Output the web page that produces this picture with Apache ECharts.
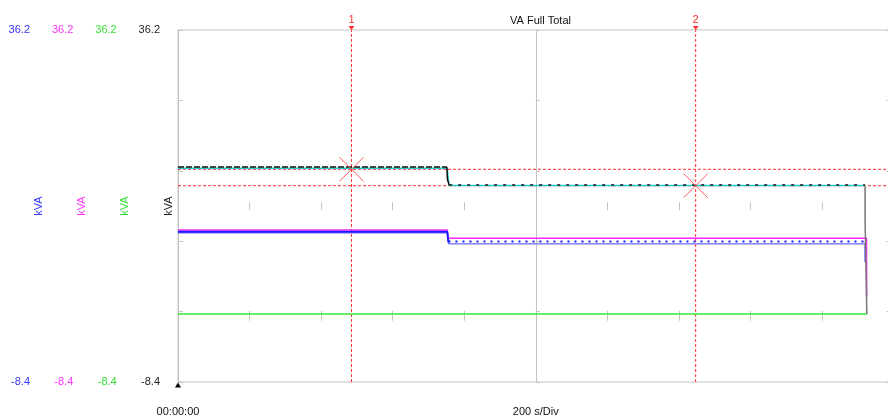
<!DOCTYPE html>
<html><head><meta charset="utf-8">
<script src="https://cdn.jsdelivr.net/npm/echarts@6/dist/echarts.min.js"></script>
<style>html,body{margin:0;padding:0;background:#fff}#chart{width:888px;height:419px}</style>
</head><body><div id="chart"></div>
<script>
// Trace samples as [time in s, kVA]
const greenTrace = [[0, 0.22], [385.3, 0.22]];
const magentaTrace = [[0, 10.86], [150.5, 10.86], [151.1, 9.81], [384.9, 9.81], [385.0, 2.4]];
const blueBaseTrace = [[0, 10.5], [150.6, 10.5], [151.3, 9.09], [384.0, 9.09], [384.0, 6.8]];
const blueFirstTrace = [[0, 10.65], [150.5, 10.65], [151.2, 9.3]];
const blueSecondTrace = [[151.2, 9.4], [384.0, 9.4]];
const cyanTrace = [[0, 18.68], [150.5, 18.68], [151.5, 16.5], [384.1, 16.5]];
const totalFirstTrace = [[0, 18.84], [150.3, 18.84]];
const totalDropTrace = [[150.3, 18.84], [150.6, 17.3], [151.6, 16.56]];
const totalSecondTrace = [[151.6, 16.56], [384.1, 16.56]];
const totalEndTrace = [[384.1, 16.56], [384.1, 12.25], [385.1, 12.25], [385.1, 0.22]];

// Measurement cursors
const cursorTimes = [97, 289.4];
const cursorNames = ['1', '2'];
const cursorLevels = [18.55, 16.47];

// Scales
const yMin = -8.4, yMax = 36.2;
const yStep = 8.92;
const xMin = 0, xMax = 400;
const xMinorStep = 40, xMajorStep = 200;
const timeLabels = { 0: '00:00:00', 200: '200 s/Div' };
const unitName = 'kVA';

const axisColors = ['#3535ff', '#ff35ff', '#35dd35', '#222222'];
const axisOffsets = [130, 86.7, 43.3, 0];
const gridGray = '#c4c4c4';
const cursorRed = '#ff3030';
const FONT = 'Liberation Sans';

const chart = echarts.init(document.getElementById('chart'), null, { renderer: 'canvas' });

const labelAxes = axisColors.map((c, i) => ({
  type: 'value', position: 'left', offset: axisOffsets[i],
  min: yMin, max: yMax, interval: yStep,
  name: unitName, nameLocation: 'middle', nameRotate: 90, nameGap: 4, nameMoveOverlap: false,
  nameTextStyle: { color: c, fontFamily: FONT, fontSize: 11 },
  axisLine: { show: false },
  axisTick: i === 3 ? { show: true, inside: true, length: 5, lineStyle: { color: gridGray } } : { show: false },
  splitLine: { show: false },
  axisLabel: {
    color: c, fontFamily: FONT, fontSize: 11, margin: 18,
    formatter: v => (Math.abs(v - yMin) < 1e-6 || Math.abs(v - yMax) < 1e-6) ? v.toFixed(1) : ''
  }
}));

const tickOnlyY = (pos, offset, len) => ({
  type: 'value', position: pos, offset: offset,
  min: yMin, max: yMax, interval: yStep,
  axisLine: { show: false }, axisLabel: { show: false }, splitLine: { show: false },
  axisTick: { show: true, inside: true, length: len, lineStyle: { color: gridGray } }
});

const tickOnlyX = (pos, offset, len) => ({
  type: 'value', position: pos, offset: offset,
  min: xMin, max: xMax, interval: xMinorStep,
  axisLine: { show: false }, axisLabel: { show: false }, splitLine: { show: false },
  axisTick: { show: true, inside: true, length: len, lineStyle: { color: gridGray } }
});

const line = (data, color, width, type, z) => ({
  type: 'line', data: data, xAxisIndex: 0, yAxisIndex: 3,
  showSymbol: false, symbol: 'none', silent: true, z: z,
  itemStyle: { color: color },
  lineStyle: { color: color, width: width, type: type || 'solid', opacity: 1 }
});

// Cursor lines: vertical time cursors and horizontal level cursors, all dashed
const cursorSeries = [];
cursorTimes.forEach((t, i) => {
  const s = line([[t, yMin], [t, yMax]], cursorRed, 1, [3, 2], 1);
  s.markPoint = {
    silent: true, animation: false,
    data: [{
      coord: [t, yMax], symbol: 'triangle', symbolRotate: 180, symbolSize: [6, 4],
      symbolOffset: [0, -2], itemStyle: { color: cursorRed },
      label: { show: true, position: 'top', distance: 1, formatter: cursorNames[i],
               color: cursorRed, fontFamily: FONT, fontSize: 11 }
    }]
  };
  cursorSeries.push(s);
});
cursorLevels.forEach(v => {
  cursorSeries.push(line([[xMin, v], [xMax, v]], cursorRed, 1, [3, 2], 1));
});

const option = {
  animation: false,
  backgroundColor: '#ffffff',
  title: {
    text: 'VA Full Total', left: 535.5, top: 10, textAlign: 'center',
    textStyle: { fontFamily: FONT, fontSize: 11, fontWeight: 'normal', color: '#111' }
  },
  grid: {
    left: 178, right: -5.5, top: 30, bottom: 37, show: true,
    borderColor: gridGray, borderWidth: 1, containLabel: false, outerBoundsMode: 'none'
  },
  xAxis: [
    tickOnlyX('bottom', 0, 5),
    tickOnlyX('top', 0, 5),
    tickOnlyX('bottom', -172, 8),
    {
      type: 'value', position: 'bottom', min: xMin, max: xMax, interval: xMajorStep,
      axisLine: { show: false }, axisTick: { show: false },
      splitLine: { show: true, lineStyle: { color: gridGray, width: 1 } },
      axisLabel: {
        margin: 24, color: '#111', fontFamily: FONT, fontSize: 11,
        formatter: v => timeLabels[v] || ''
      }
    }
  ],
  yAxis: labelAxes.concat([
    tickOnlyY('right', 0, 7),
    tickOnlyY('left', -357.7, 4),
    tickOnlyY('right', 357.7, 4)
  ]),
  series: cursorSeries.concat([
    {
      type: 'line', data: [], xAxisIndex: 0, yAxisIndex: 3, z: 1, silent: true,
      markPoint: {
        silent: true, animation: false, label: { show: false },
        data: [{
          coord: [xMin, yMin], symbol: 'triangle', symbolSize: [6, 5],
          symbolOffset: [0, 3], itemStyle: { color: '#000' }
        }]
      }
    },
    line(greenTrace, '#33e833', 1.5, 'solid', 2),
    line(magentaTrace, '#ff22ff', 1.5, 'solid', 3),
    line(blueBaseTrace, '#6a6aff', 1.2, 'solid', 4),
    line(blueFirstTrace, '#1a1aff', 2, 'solid', 5),
    line(blueSecondTrace, '#1a1aff', 2, [2, 5], 5),
    line(cyanTrace, '#22cccc', 1.5, 'solid', 6),
    line(totalFirstTrace, '#111111', 1.6, [6, 2], 7),
    line(totalDropTrace, '#111111', 1.5, 'solid', 7),
    line(totalSecondTrace, '#111111', 1.6, [3, 6], 7),
    line(totalEndTrace, '#777777', 1.5, 'solid', 8),
    {
      type: 'scatter', xAxisIndex: 0, yAxisIndex: 3, z: 9, silent: true,
      data: cursorTimes.map((t, i) => [t, cursorLevels[i]]),
      symbol: 'path://M0 0L24 24M24 0L0 24', symbolSize: [24, 24],
      itemStyle: { color: 'rgba(0,0,0,0)', borderColor: '#ff5a5a', borderWidth: 1, opacity: 1 }
    }
  ])
};

chart.setOption(option);
</script>
</body></html>
